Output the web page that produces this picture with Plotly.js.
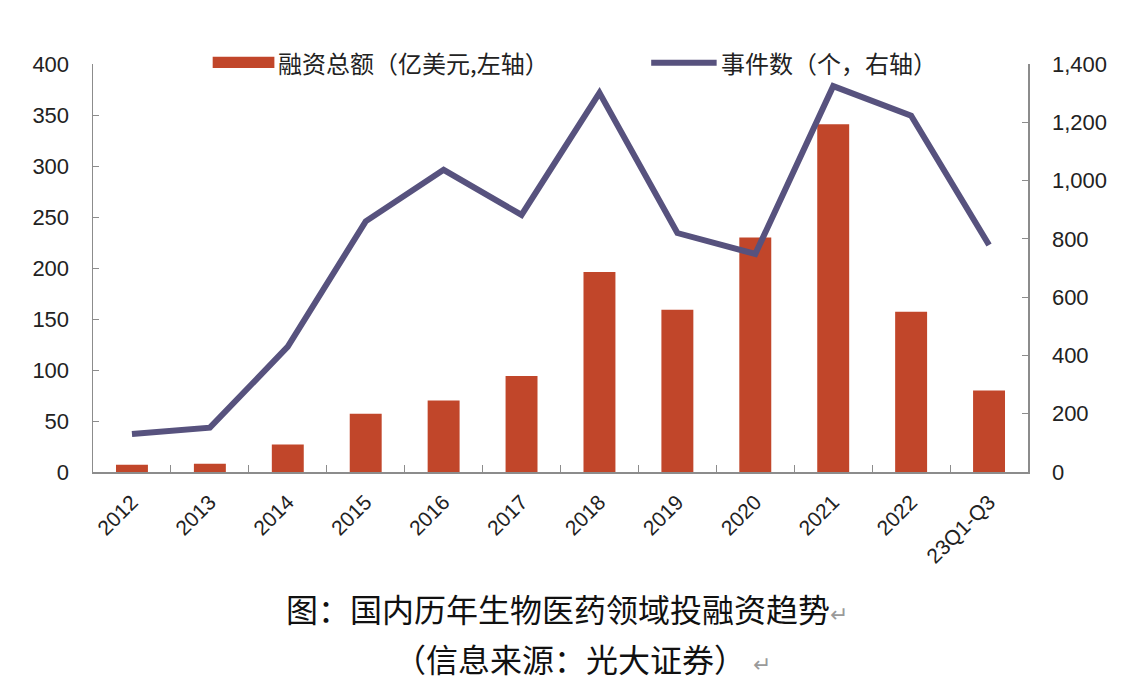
<!DOCTYPE html>
<html>
<head>
<meta charset="utf-8">
<script src="https://cdn.plot.ly/plotly-3.0.1.min.js"></script>
<style>
  html, body { margin: 0; padding: 0; background: #fff; }
  #chart { width: 1129px; height: 695px; }
</style>
</head>
<body>
<div id="chart"></div>
<script>
// categories and series
const years = ['2012', '2013', '2014', '2015', '2016', '2017', '2018', '2019', '2020', '2021', '2022', '23Q1-Q3'];
const amount = [7, 8, 27, 57, 70, 94, 196, 159, 230, 341, 157, 80];       // 融资总额, 亿美元 (left)
const events = [130, 152, 430, 860, 1037, 882, 1301, 820, 748, 1324, 1223, 779]; // 事件数 (right)

const barName = '融资总额（亿美元,左轴）';
const lineName = '事件数（个，右轴）';
const caption1 = '图：国内历年生物医药领域投融资趋势';
const caption2 = '（信息来源：光大证券）';

const barColor = '#C1462A';
const lineColor = '#57527E';
const axisColor = '#8c8c8c';
const latin = 'Liberation Sans, Arial, sans-serif';
const cjk = 'Noto Sans CJK SC, sans-serif';

const bars = {
    type: 'bar',
    x: years,
    y: amount,
    name: barName,
    marker: { color: barColor },
    yaxis: 'y',
    showlegend: false,
    hoverinfo: 'x+y'
};

const line = {
    type: 'scatter',
    mode: 'lines',
    x: years,
    y: events,
    name: lineName,
    line: { color: lineColor, width: 6 },
    yaxis: 'y2',
    showlegend: false,
    hoverinfo: 'x+y'
};

const tickFont = { family: latin, size: 22, color: '#222' };

const layout = {
    width: 1129,
    height: 695,
    margin: { l: 93, r: 101, t: 64, b: 223 },
    paper_bgcolor: '#fff',
    plot_bgcolor: '#fff',
    bargap: 0.59,
    showlegend: false,
    xaxis: {
        type: 'category',
        showline: true,
        linecolor: axisColor,
        linewidth: 1.5,
        ticks: 'inside',
        ticklen: 7,
        tickcolor: axisColor,
        tickson: 'boundaries',
        tickangle: -45,
        tickfont: { family: latin, size: 21, color: '#222' },
        ticklabelstandoff: 8,
        showgrid: false,
        zeroline: false
    },
    yaxis: {
        range: [0, 400],
        dtick: 50,
        showline: true,
        linecolor: axisColor,
        linewidth: 1.5,
        ticks: 'inside',
        ticklen: 6,
        tickcolor: axisColor,
        tickfont: tickFont,
        ticklabelstandoff: 18,
        showgrid: false,
        zeroline: false
    },
    yaxis2: {
        overlaying: 'y',
        side: 'right',
        range: [0, 1400],
        dtick: 200,
        tickformat: ',d',
        showline: true,
        linecolor: axisColor,
        linewidth: 1.5,
        ticks: 'inside',
        ticklen: 6,
        tickcolor: axisColor,
        tickfont: tickFont,
        ticklabelstandoff: 18,
        showgrid: false,
        zeroline: false
    },
    // hand-drawn legend so the swatches keep the reference's wide shape
    shapes: [
        { type: 'rect', xref: 'paper', yref: 'paper', x0: 0.128, x1: 0.194, y0: 0.99, y1: 1.018,
          fillcolor: barColor, line: { width: 0 } },
        { type: 'line', xref: 'paper', yref: 'paper', x0: 0.597, x1: 0.667, y0: 1.003, y1: 1.003,
          line: { color: lineColor, width: 6 } }
    ],
    annotations: [
        { xref: 'paper', yref: 'paper', x: 0.196, y: 1.004, xanchor: 'left', yanchor: 'middle',
          text: barName, showarrow: false, font: { family: cjk, size: 24, color: '#222' } },
        { xref: 'paper', yref: 'paper', x: 0.669, y: 1.004, xanchor: 'left', yanchor: 'middle',
          text: lineName, showarrow: false, font: { family: cjk, size: 24, color: '#222' } },
        { xref: 'paper', yref: 'paper', x: 0.507, y: -0.333, xanchor: 'center', yanchor: 'middle',
          text: caption1 + '<span style="color:#9a9a9a;font-size:22px">↵</span>', showarrow: false,
          font: { family: cjk, size: 32, color: '#111' } },
        { xref: 'paper', yref: 'paper', x: 0.524, y: -0.457, xanchor: 'center', yanchor: 'middle',
          text: caption2 + ' <span style="color:#9a9a9a;font-size:22px">↵</span>', showarrow: false,
          font: { family: cjk, size: 32, color: '#111' } }
    ]
};

Plotly.newPlot('chart', [bars, line], layout, { staticPlot: true, displayModeBar: false });
</script>
</body>
</html>
